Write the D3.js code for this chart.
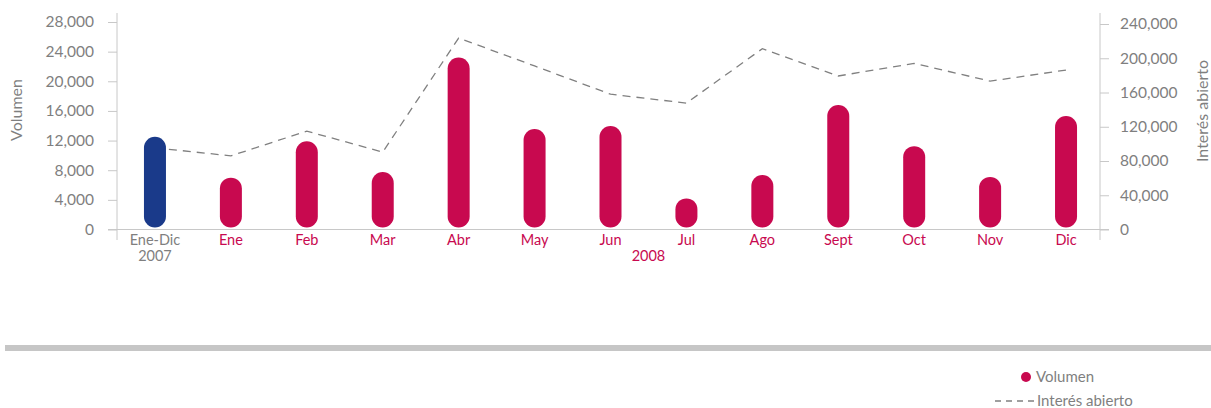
<!DOCTYPE html>
<meta charset="utf-8">
<head>
    <style>
        body { margin: 0; background: #fff; }
        text { font-family: Lato, "Open Sans", sans-serif; }
        .axis path, .axis line { stroke: #c8c8c8; }
        .axis text { fill: #7f7f7f; font-size: 15.5px; }
    </style>
    <script src="https://d3js.org/d3.v7.min.js"></script>
</head>
<body>
<svg id="chart"></svg>
<script>
    // datos
    var categorias = ["Ene-Dic", "Ene", "Feb", "Mar", "Abr", "May", "Jun", "Jul", "Ago", "Sept", "Oct", "Nov", "Dic"];
    var volumen = [12500, 7000, 11900, 7750, 23200, 13550, 13950, 4200, 7350, 16800, 11250, 7100, 15300];
    var interesAbierto = [95400, 86000, 114900, 90400, 223600, 191000, 158000, 147600, 211200, 179300, 194000, 173300, 186200];
    var ticksIzq = [0, 4000, 8000, 12000, 16000, 20000, 24000, 28000];
    var ticksDer = [0, 40000, 80000, 120000, 160000, 200000, 240000];

    var width = 1211, height = 408;
    var rojo = "#c8094f", azul = "#1a3a8a", gris = "#7f7f7f";

    var svg = d3.select("#chart")
        .attr("width", width)
        .attr("height", height);

    var x = d3.scaleBand()
        .domain(categorias)
        .range([117, 1104]);

    var yIzq = d3.scaleLinear().domain([0, 28000]).range([229.5, 22]);
    var yDer = d3.scaleLinear().domain([0, 240000]).range([229.5, 24]);

    var fmt = d3.format(",");

    // eje izquierdo
    var gIzq = svg.append("g")
        .attr("class", "axis")
        .attr("transform", "translate(117,0)")
        .call(d3.axisLeft(yIzq).tickValues(ticksIzq).tickFormat(fmt).tickSize(9).tickPadding(14));
    gIzq.select(".domain").attr("d", "M0,13V240");

    // eje derecho
    var gDer = svg.append("g")
        .attr("class", "axis")
        .attr("transform", "translate(1100,0)")
        .call(d3.axisRight(yDer).tickValues(ticksDer).tickFormat(fmt).tickSize(9).tickPadding(11));
    gDer.select(".domain").attr("d", "M0,13V240");

    // linea base
    svg.append("line")
        .attr("x1", 108).attr("x2", 1109)
        .attr("y1", yIzq(0)).attr("y2", yIzq(0))
        .attr("stroke", "#c8c8c8");

    // titulos de ejes
    svg.append("text")
        .attr("transform", "translate(22,110) rotate(-90)")
        .attr("text-anchor", "middle")
        .attr("fill", gris)
        .style("font-size", "16px")
        .text("Volumen");

    svg.append("text")
        .attr("transform", "translate(1208,111) rotate(-90)")
        .attr("text-anchor", "middle")
        .attr("fill", gris)
        .style("font-size", "16px")
        .text("Interés abierto");

    // linea interes abierto
    var linea = d3.line()
        .x(function(d, i) { return x(categorias[i]) + x.bandwidth() / 2; })
        .y(function(d) { return yDer(d); });

    svg.append("path")
        .datum(interesAbierto)
        .attr("d", linea)
        .attr("fill", "none")
        .attr("stroke", "#808080")
        .attr("stroke-width", 1.3)
        .attr("stroke-dasharray", "8,6");

    // barras
    var anchoBarra = 22;
    svg.append("g")
        .selectAll("rect")
        .data(volumen)
        .enter()
        .append("rect")
        .attr("x", function(d, i) { return x(categorias[i]) + x.bandwidth() / 2 - anchoBarra / 2; })
        .attr("y", function(d) { return yIzq(d); })
        .attr("width", anchoBarra)
        .attr("height", function(d) { return yIzq(0) - 2 - yIzq(d); })
        .attr("rx", anchoBarra / 2)
        .attr("fill", function(d, i) { return i == 0 ? azul : rojo; });

    // etiquetas del eje x
    svg.append("g")
        .selectAll("text")
        .data(categorias)
        .enter()
        .append("text")
        .attr("x", function(d) { return x(d) + x.bandwidth() / 2; })
        .attr("y", 245)
        .attr("text-anchor", "middle")
        .attr("fill", function(d, i) { return i == 0 ? gris : rojo; })
        .style("font-size", "14.5px")
        .text(function(d) { return d; });

    svg.append("text")
        .attr("x", x("Ene-Dic") + x.bandwidth() / 2)
        .attr("y", 261)
        .attr("text-anchor", "middle")
        .attr("fill", gris)
        .style("font-size", "14.5px")
        .text("2007");

    svg.append("text")
        .attr("x", (x("Ene") + x("Dic") + x.bandwidth()) / 2)
        .attr("y", 261)
        .attr("text-anchor", "middle")
        .attr("fill", rojo)
        .style("font-size", "14.5px")
        .text("2008");

    // separador
    svg.append("rect")
        .attr("x", 5).attr("y", 345)
        .attr("width", width - 5).attr("height", 6)
        .attr("fill", "#c6c6c6");

    // leyenda
    svg.append("circle")
        .attr("cx", 1026).attr("cy", 377).attr("r", 5)
        .attr("fill", rojo);
    svg.append("text")
        .attr("x", 1036).attr("y", 382)
        .attr("fill", gris)
        .style("font-size", "15px")
        .text("Volumen");

    svg.append("line")
        .attr("x1", 995).attr("x2", 1035)
        .attr("y1", 401).attr("y2", 401)
        .attr("stroke", "#808080")
        .attr("stroke-width", 1.3)
        .attr("stroke-dasharray", "6,5");
    svg.append("text")
        .attr("x", 1037).attr("y", 406)
        .attr("fill", gris)
        .style("font-size", "15px")
        .text("Interés abierto");
</script>
</body>
